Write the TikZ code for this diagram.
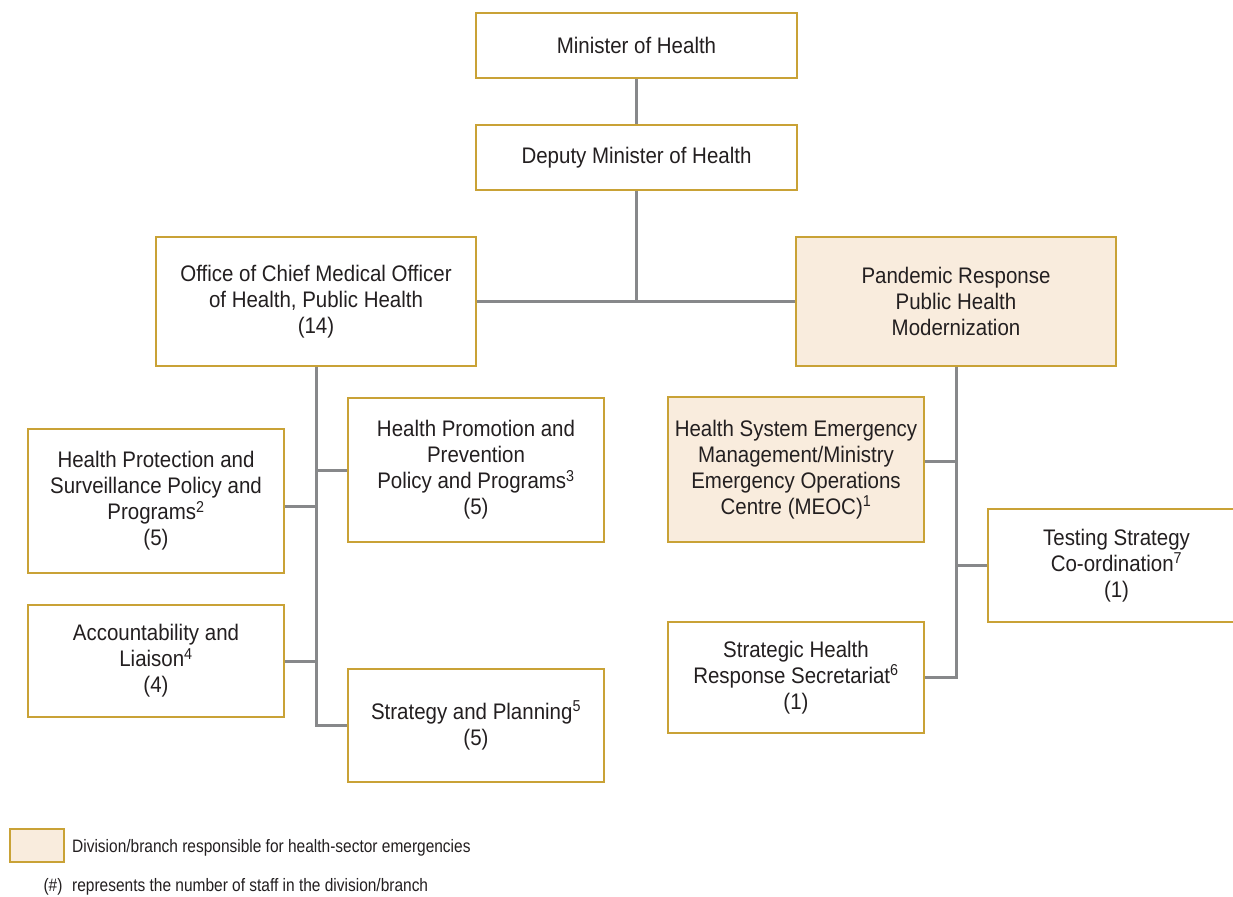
\documentclass[tikz,border=0pt]{standalone}
\usepackage{fontspec}
\setmainfont{Liberation Sans}[FakeStretch=0.91]
\newfontfamily\legendfont{Liberation Sans}[FakeStretch=0.86]
\definecolor{gold}{HTML}{C9A236}
\definecolor{cream}{HTML}{F9ECDD}
\definecolor{linegray}{HTML}{87888A}
\definecolor{ink}{HTML}{231F20}
\tikzset{
  box/.style={draw=gold, line width=1.6pt, fill=white, rectangle, inner sep=0pt,
    align=center, text=ink, font=\fontsize{22.5}{26}\selectfont},
  emerg/.style={box, fill=cream},
  wide/.style={minimum width=321pt},
  narrow/.style={minimum width=256pt},
  link/.style={draw=linegray, line width=3pt},
  legend/.style={text=ink, font=\legendfont\fontsize{18}{22}\selectfont, inner sep=0pt}
}
\newcommand{\fn}[1]{\textsuperscript{#1}}
\begin{document}
\begin{tikzpicture}[x=1pt,y=-1pt]
\clip (0,0) rectangle (1233,896);
\fill[white] (0,0) rectangle (1233,896);
% boxes
\node[box, wide, minimum height=65pt] (min) at (636.5,45.5) {Minister of Health};
\node[box, wide, minimum height=65pt] (dep) at (636.5,157.5) {Deputy Minister of Health};
\node[box, minimum width=320pt, minimum height=129pt] (off) at (316,301.5)
  {Office of Chief Medical Officer\\of Health, Public Health\\(14)};
\node[emerg, minimum width=320pt, minimum height=129pt] (pan) at (956,301.5)
  {Pandemic Response\\Public Health\\Modernization};
\node[box, narrow, minimum height=144pt] (hprot) at (156,501)
  {Health Protection and\\Surveillance Policy and\\Programs\fn{2}\\(5)};
\node[box, narrow, minimum height=144pt] (hprom) at (476,470)
  {Health Promotion and\\Prevention\\Policy and Programs\fn{3}\\(5)};
\node[box, narrow, minimum height=112pt] (acc) at (156,661)
  {Accountability and\\Liaison\fn{4}\\(4)};
\node[box, narrow, minimum height=113pt] (stp) at (476,725.5)
  {Strategy and Planning\fn{5}\\(5)};
\node[emerg, narrow, minimum height=145pt] (meoc) at (796,469.5)
  {Health System Emergency\\Management/Ministry\\Emergency Operations\\Centre (MEOC)\fn{1}};
\node[box, minimum width=257pt, minimum height=113pt] (test) at (1116.5,565.5)
  {Testing Strategy\\Co-ordination\fn{7}\\(1)};
\node[box, narrow, minimum height=111pt] (shr) at (796,677.5)
  {Strategic Health\\Response Secretariat\fn{6}\\(1)};
% connectors
\draw[link] (min.south) -- (dep.north);
\draw[link] (dep.south) -- (dep.south |- off.east);
\draw[link] (off.east) -- (pan.west);
\draw[link] (off.south) |- (stp.west);
\draw[link] (hprom.west) -- (hprom.west -| off.south);
\draw[link] ([yshift=-5pt]hprot.east) -- ([yshift=-5pt]hprot.east -| off.south);
\draw[link] (acc.east) -- (acc.east -| off.south);
\draw[link] (pan.south) |- (shr.east);
\draw[link] ([yshift=8.5pt]meoc.east) -- ([yshift=8.5pt]meoc.east -| pan.south);
\draw[link] (test.west) -- (test.west -| pan.south);
% legend
\node[draw=gold, line width=1.6pt, fill=cream, inner sep=0pt, minimum width=54pt, minimum height=33pt] (sw) at (37,845.5) {};
\node[legend, anchor=west] (lg1) at (72,848) {Division/branch responsible for health-sector emergencies};
\node[legend] (hash) at (53,887) {(\#)};
\node[legend, anchor=west] (lg2) at (72,887) {represents the number of staff in the division/branch};
\end{tikzpicture}
\end{document}
